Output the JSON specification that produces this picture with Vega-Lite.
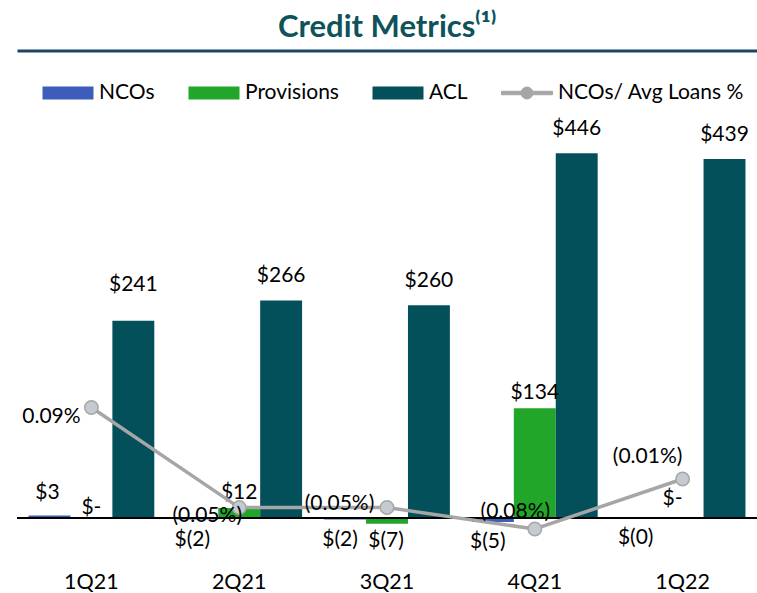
{
  "$schema": "https://vega.github.io/schema/vega-lite/v6.json",
  "width": 740,
  "height": 458,
  "autosize": {"type": "none"},
  "padding": {"left": 17, "top": 109, "right": 0, "bottom": 26},
  "background": "white",
  "config": {
    "view": {"stroke": null},
    "font": "Lato",
    "text": {"font": "Lato", "fontSize": 21, "color": "black"}
  },
  "title": {
    "text": "Credit Metrics⁽¹⁾",
    "frame": "group",
    "anchor": "middle",
    "orient": "top",
    "offset": -17,
    "baseline": "alphabetic",
    "font": "Lato",
    "fontSize": 31,
    "fontWeight": "bold",
    "color": "#0D5359"
  },
  "datasets": {
    "bars": [
      {"quarter": "1Q21", "series": "NCOs", "value": 3, "label": "$3"},
      {"quarter": "2Q21", "series": "NCOs", "value": -2, "label": "$(2)"},
      {"quarter": "3Q21", "series": "NCOs", "value": -2, "label": "$(2)"},
      {"quarter": "4Q21", "series": "NCOs", "value": -5, "label": "$(5)"},
      {"quarter": "1Q22", "series": "NCOs", "value": -0.3, "label": "$(0)"},
      {"quarter": "1Q21", "series": "Provisions", "value": 0, "label": "$-"},
      {"quarter": "2Q21", "series": "Provisions", "value": 12, "label": "$12"},
      {"quarter": "3Q21", "series": "Provisions", "value": -7, "label": "$(7)"},
      {"quarter": "4Q21", "series": "Provisions", "value": 134, "label": "$134"},
      {"quarter": "1Q22", "series": "Provisions", "value": 0, "label": "$-"},
      {"quarter": "1Q21", "series": "ACL", "value": 241, "label": "$241"},
      {"quarter": "2Q21", "series": "ACL", "value": 266, "label": "$266"},
      {"quarter": "3Q21", "series": "ACL", "value": 260, "label": "$260"},
      {"quarter": "4Q21", "series": "ACL", "value": 446, "label": "$446"},
      {"quarter": "1Q22", "series": "ACL", "value": 439, "label": "$439"}
    ],
    "ratio": [
      {"quarter": "1Q21", "pct": 0.09, "label": "0.09%"},
      {"quarter": "2Q21", "pct": -0.05, "label": "(0.05%)"},
      {"quarter": "3Q21", "pct": -0.05, "label": "(0.05%)"},
      {"quarter": "4Q21", "pct": -0.08, "label": "(0.08%)"},
      {"quarter": "1Q22", "pct": -0.01, "label": "(0.01%)"}
    ]
  },
  "layer": [
    {
      "data": {"name": "bars"},
      "encoding": {
        "y": {"field": "value", "type": "quantitative", "scale": {"domain": [-60, 500], "nice": false, "zero": false}, "axis": null}
      },
      "layer": [
        {
          "mark": {"type": "bar"},
          "encoding": {
            "x": {"field": "quarter", "type": "nominal", "sort": ["1Q21", "2Q21", "3Q21", "4Q21", "1Q22"], "scale": {"paddingInner": 0.149, "paddingOuter": 0.078}, "axis": {"orient": "bottom", "title": null, "domain": false, "ticks": false, "tickSize": 0, "labelPadding": 21.5, "labelBaseline": "alphabetic", "labelFont": "Lato", "labelFontSize": 21.5, "labelColor": "black", "labelAngle": 0, "grid": false}},
            "xOffset": {"field": "series", "type": "nominal", "sort": ["NCOs", "Provisions", "ACL"], "scale": {"domain": ["NCOs", "Provisions", "ACL"], "paddingInner": 0, "paddingOuter": 0}},
            "color": {
              "field": "series", "type": "nominal",
              "scale": {"domain": ["NCOs", "Provisions", "ACL", "NCOs/ Avg Loans %"], "range": ["#3C5DBB", "#22A629", "#03505B", "#A6A6A6"]},
              "legend": {
                "orient": "none", "legendX": 25, "legendY": -42, "direction": "horizontal", "title": null, "padding": 0,
                "symbolSize": 2601, "symbolStrokeWidth": 1, "labelOffset": 5, "columnPadding": 31,
                "labelFont": "Lato", "labelFontSize": 21, "labelColor": "black", "labelLimit": 400,
                "encode": {
                  "symbols": {
                    "update": {
                      "shape": {"signal": "datum.value == 'NCOs/ Avg Loans %' ? 'M-1,-0.069H-0.235V0.069H-1Z M0.235,-0.069H1V0.069H0.235Z M-0.235,0A0.235,0.235 0 1,1 0.235,0A0.235,0.235 0 1,1 -0.235,0Z' : 'M-1,-0.255H1V0.255H-1Z'"},
                      "fill": {"signal": "datum.value == 'NCOs' ? '#3C5DBB' : datum.value == 'Provisions' ? '#22A629' : datum.value == 'ACL' ? '#03505B' : '#B5BAC1'"},
                      "stroke": {"signal": "datum.value == 'NCOs/ Avg Loans %' ? '#A6A6A6' : 'transparent'"},
                      "opacity": {"value": 1}
                    }
                  }
                }
              }
            }
          }
        },
        {
          "mark": {"type": "rule", "color": "black", "strokeWidth": 2},
          "encoding": {"y": {"datum": 0}}
        },
        {
          "transform": [{"filter": "datum.series == 'ACL' && datum.quarter != '1Q21'"}],
          "mark": {"type": "text", "baseline": "alphabetic", "align": "center", "dy": -18},
          "encoding": {
            "x": {"field": "quarter", "type": "nominal", "sort": ["1Q21", "2Q21", "3Q21", "4Q21", "1Q22"]},
            "xOffset": {"field": "series", "type": "nominal", "sort": ["NCOs", "Provisions", "ACL"]},
            "text": {"field": "label"}
          }
        },
        {
          "transform": [{"filter": "datum.series == 'ACL' && datum.quarter == '1Q21'"}],
          "mark": {"type": "text", "baseline": "alphabetic", "align": "center", "dy": -30},
          "encoding": {
            "x": {"field": "quarter", "type": "nominal", "sort": ["1Q21", "2Q21", "3Q21", "4Q21", "1Q22"]},
            "xOffset": {"field": "series", "type": "nominal", "sort": ["NCOs", "Provisions", "ACL"]},
            "text": {"field": "label"}
          }
        },
        {
          "transform": [{"filter": "datum.series == 'NCOs' && datum.value > 0"}],
          "mark": {"type": "text", "baseline": "alphabetic", "align": "center", "dy": -16, "dx": -2},
          "encoding": {
            "x": {"field": "quarter", "type": "nominal", "sort": ["1Q21", "2Q21", "3Q21", "4Q21", "1Q22"]},
            "xOffset": {"field": "series", "type": "nominal", "sort": ["NCOs", "Provisions", "ACL"]},
            "text": {"field": "label"}
          }
        },
        {
          "transform": [{"filter": "datum.series == 'Provisions' && datum.value > 0"}],
          "mark": {"type": "text", "baseline": "alphabetic", "align": "center", "dy": -9.5},
          "encoding": {
            "x": {"field": "quarter", "type": "nominal", "sort": ["1Q21", "2Q21", "3Q21", "4Q21", "1Q22"]},
            "xOffset": {"field": "series", "type": "nominal", "sort": ["NCOs", "Provisions", "ACL"]},
            "text": {"field": "label"}
          }
        },
        {
          "transform": [{"filter": "datum.series == 'NCOs' && datum.value < 0"}],
          "mark": {"type": "text", "baseline": "alphabetic", "align": "center", "dy": 26, "dx": -5},
          "encoding": {
            "x": {"field": "quarter", "type": "nominal", "sort": ["1Q21", "2Q21", "3Q21", "4Q21", "1Q22"]},
            "xOffset": {"field": "series", "type": "nominal", "sort": ["NCOs", "Provisions", "ACL"]},
            "text": {"field": "label"}
          }
        },
        {
          "transform": [{"filter": "datum.series == 'Provisions' && datum.value < 0"}],
          "mark": {"type": "text", "baseline": "alphabetic", "align": "center", "dy": 23, "dx": -1},
          "encoding": {
            "x": {"field": "quarter", "type": "nominal", "sort": ["1Q21", "2Q21", "3Q21", "4Q21", "1Q22"]},
            "xOffset": {"field": "series", "type": "nominal", "sort": ["NCOs", "Provisions", "ACL"]},
            "text": {"field": "label"}
          }
        },
        {
          "transform": [{"filter": "datum.series == 'Provisions' && datum.value == 0 && datum.quarter == '1Q21'"}],
          "mark": {"type": "text", "baseline": "alphabetic", "align": "center", "dy": -4},
          "encoding": {
            "x": {"field": "quarter", "type": "nominal", "sort": ["1Q21", "2Q21", "3Q21", "4Q21", "1Q22"]},
            "xOffset": {"field": "series", "type": "nominal", "sort": ["NCOs", "Provisions", "ACL"]},
            "text": {"field": "label"}
          }
        },
        {
          "transform": [{"filter": "datum.series == 'Provisions' && datum.value == 0 && datum.quarter == '1Q22'"}],
          "mark": {"type": "text", "baseline": "alphabetic", "align": "center", "dy": -13, "dx": -10},
          "encoding": {
            "x": {"field": "quarter", "type": "nominal", "sort": ["1Q21", "2Q21", "3Q21", "4Q21", "1Q22"]},
            "xOffset": {"field": "series", "type": "nominal", "sort": ["NCOs", "Provisions", "ACL"]},
            "text": {"field": "label"}
          }
        }
      ]
    },
    {
      "data": {"name": "ratio"},
      "encoding": {
        "x": {"field": "quarter", "type": "nominal", "sort": ["1Q21", "2Q21", "3Q21", "4Q21", "1Q22"], "scale": {"paddingInner": 0.149, "paddingOuter": 0.078}, "axis": {"orient": "top", "offset": 58.5, "title": null, "labels": false, "ticks": false, "grid": false, "domain": true, "domainColor": "#1A4468", "domainWidth": 3}},
        "y": {"field": "pct", "type": "quantitative", "scale": {"domain": [-0.1331, 0.5074], "nice": false, "zero": false}, "axis": null}
      },
      "layer": [
        {"mark": {"type": "line", "color": "#A6A6A6", "strokeWidth": 3.5}},
        {"mark": {"type": "point", "filled": true, "fill": "#C5CAD1", "stroke": "#A6A6A6", "strokeWidth": 1.5, "size": 180, "opacity": 1}},
        {
          "transform": [{"filter": "datum.quarter == '1Q21'"}],
          "mark": {"type": "text", "baseline": "alphabetic", "align": "center", "dx": -40, "dy": 15.7},
          "encoding": {"text": {"field": "label"}}
        },
        {
          "transform": [{"filter": "datum.quarter == '2Q21'"}],
          "mark": {"type": "text", "baseline": "alphabetic", "align": "center", "dx": -32, "dy": 14},
          "encoding": {"text": {"field": "label"}}
        },
        {
          "transform": [{"filter": "datum.quarter == '3Q21'"}],
          "mark": {"type": "text", "baseline": "alphabetic", "align": "center", "dx": -47.5, "dy": 2.3},
          "encoding": {"text": {"field": "label"}}
        },
        {
          "transform": [{"filter": "datum.quarter == '4Q21'"}],
          "mark": {"type": "text", "baseline": "alphabetic", "align": "center", "dx": -19.5, "dy": -11},
          "encoding": {"text": {"field": "label"}}
        },
        {
          "transform": [{"filter": "datum.quarter == '1Q22'"}],
          "mark": {"type": "text", "baseline": "alphabetic", "align": "center", "dx": -35, "dy": -16},
          "encoding": {"text": {"field": "label"}}
        }
      ]
    }
  ],
  "resolve": {"scale": {"y": "independent"}, "axis": {"x": "independent", "y": "independent"}}
}
